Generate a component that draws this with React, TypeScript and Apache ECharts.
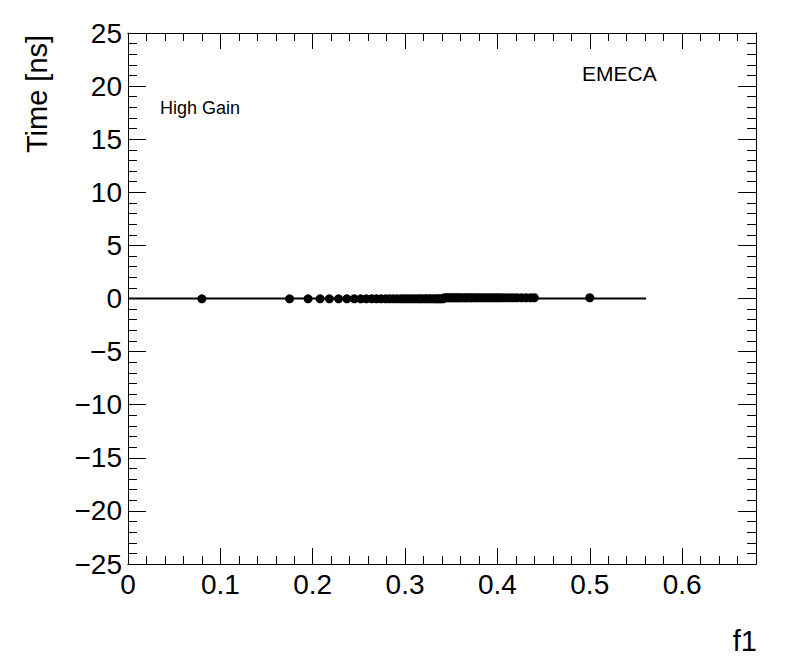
import React, { useEffect, useRef } from "react";
import * as echarts from "echarts";

// f1 values of the points
const f1Values = [
  0.080, 0.175, 0.195, 0.208, 0.218, 0.228, 0.237, 0.245, 0.252, 0.258,
  0.264, 0.269, 0.274, 0.279, 0.283, 0.287, 0.291, 0.295, 0.298, 0.301,
  0.304, 0.307, 0.310, 0.313, 0.316, 0.318, 0.321, 0.323, 0.326, 0.328,
  0.331, 0.333, 0.335, 0.337, 0.339, 0.341,
  0.343, 0.345, 0.347, 0.349, 0.351, 0.353, 0.355, 0.357, 0.359, 0.361,
  0.364, 0.366, 0.368, 0.371, 0.373, 0.376, 0.378, 0.381, 0.384, 0.387,
  0.390, 0.393, 0.396, 0.399, 0.402, 0.405, 0.409, 0.413, 0.417, 0.421,
  0.426, 0.431, 0.436, 0.440, 0.500,
];
// time values [ns] of the points
const timeValues = [
  -0.03, -0.03, -0.03, -0.03, -0.03, -0.03, -0.03, -0.03, -0.03, -0.03,
  -0.03, -0.03, -0.03, -0.03, -0.03, -0.03, -0.03, -0.03, -0.03, -0.03,
  -0.03, -0.03, -0.03, -0.03, -0.03, -0.03, -0.03, -0.03, -0.03, -0.03,
  -0.03, -0.03, -0.03, -0.03, -0.03, -0.03,
  0.07, 0.07, 0.07, 0.07, 0.07, 0.07, 0.07, 0.07, 0.07, 0.07,
  0.07, 0.07, 0.07, 0.07, 0.07, 0.07, 0.07, 0.07, 0.07, 0.07,
  0.07, 0.07, 0.07, 0.07, 0.07, 0.07, 0.07, 0.07, 0.07, 0.07,
  0.07, 0.07, 0.07, 0.07, 0.07,
];
// fitted line endpoints
const fitF1 = [0.0, 0.561];
const fitTime = [0.0, 0.0];

const xMin = 0;
const xMax = 0.68;
const yMin = -25;
const yMax = 25;

const FONT = "Liberation Sans, Arial, Helvetica, sans-serif";

export default function App() {
  const ref = useRef<HTMLDivElement>(null);
  useEffect(() => {
    if (!ref.current) return;
    const chart = echarts.init(ref.current, undefined, { renderer: "svg" });
    const axisLine = { show: true, onZero: false, lineStyle: { color: "#000", width: 1 } };
    const xBase = {
      type: "value",
      min: xMin,
      max: xMax,
      splitLine: { show: false },
      axisLine,
    };
    const yBase = {
      type: "value",
      min: yMin,
      max: yMax,
      interval: 5,
      splitLine: { show: false },
      axisLine,
      axisTick: { show: true, inside: true, length: 18, lineStyle: { color: "#000" } },
      minorTick: { show: true, splitNumber: 5, length: 9, lineStyle: { color: "#000" } },
    };
    chart.setOption({
      animation: false,
      backgroundColor: "#fff",
      grid: { left: 128, top: 33, right: 40, bottom: 108, containLabel: false },
      xAxis: [
        {
          ...xBase,
          position: "bottom",
          interval: 0.1,
          axisTick: { show: true, inside: true, length: 16, lineStyle: { color: "#000" } },
          axisLabel: {
            show: true,
            showMaxLabel: false,
            margin: 6,
            color: "#000",
            fontFamily: FONT,
            fontSize: 28,
            formatter: (v: number) => String(Math.round(v * 10) / 10),
          },
        },
        {
          ...xBase,
          position: "bottom",
          interval: 0.02,
          axisTick: { show: true, inside: true, length: 8, lineStyle: { color: "#000" } },
          axisLabel: { show: false },
        },
        {
          ...xBase,
          position: "top",
          interval: 0.1,
          axisTick: { show: true, inside: true, length: 16, lineStyle: { color: "#000" } },
          axisLabel: { show: false },
        },
        {
          ...xBase,
          position: "top",
          interval: 0.02,
          axisTick: { show: true, inside: true, length: 8, lineStyle: { color: "#000" } },
          axisLabel: { show: false },
        },
      ],
      yAxis: [
        {
          ...yBase,
          position: "left",
          axisLabel: {
            show: true,
            margin: 6,
            color: "#000",
            fontFamily: FONT,
            fontSize: 28,
            formatter: (v: number) => (v < 0 ? "\u2212" + Math.abs(v) : String(v)),
          },
        },
        {
          ...yBase,
          position: "right",
          axisLabel: { show: false },
        },
      ],
      series: [
        {
          type: "line",
          xAxisIndex: 0,
          yAxisIndex: 0,
          data: fitF1.map((x, i) => [x, fitTime[i]]),
          symbol: "none",
          lineStyle: { color: "#000", width: 2 },
          z: 2,
        },
        {
          type: "scatter",
          xAxisIndex: 0,
          yAxisIndex: 0,
          data: f1Values.map((x, i) => [x, timeValues[i]]),
          symbol: "circle",
          symbolSize: 9,
          itemStyle: { color: "#000", opacity: 1 },
          z: 3,
        },
      ],
      graphic: [
        {
          type: "text",
          x: 37,
          y: 94,
          rotation: Math.PI / 2,
          style: {
            text: "Time [ns]",
            font: `29px ${FONT}`,
            fill: "#000",
            align: "center",
            verticalAlign: "middle",
          },
        },
        {
          type: "text",
          x: 757,
          y: 641,
          style: {
            text: "f1",
            font: `29px ${FONT}`,
            fill: "#000",
            align: "right",
            verticalAlign: "middle",
          },
        },
        {
          type: "text",
          x: 160,
          y: 108,
          style: {
            text: "High Gain",
            font: `18px ${FONT}`,
            fill: "#000",
            align: "left",
            verticalAlign: "middle",
          },
        },
        {
          type: "text",
          x: 582,
          y: 73,
          style: {
            text: "EMECA",
            font: `21px ${FONT}`,
            fill: "#000",
            align: "left",
            verticalAlign: "middle",
          },
        },
      ],
    });
    return () => chart.dispose();
  }, []);
  return (
    <div
      ref={ref}
      style={{ position: "fixed", left: 0, top: 0, width: 796, height: 672, background: "#fff" }}
    />
  );
}
